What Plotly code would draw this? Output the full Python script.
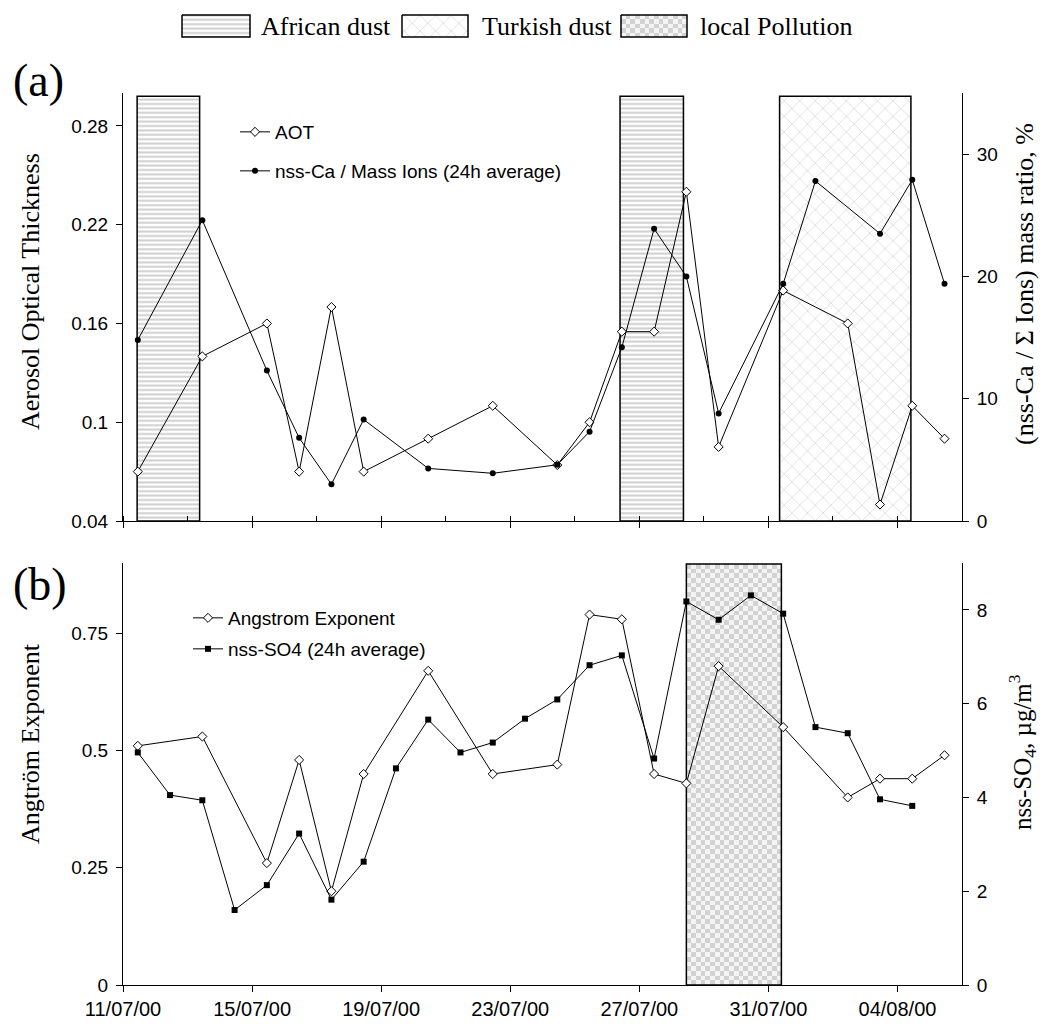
import numpy as np
import pandas as pd
import plotly.graph_objects as go

# ---------------- data ----------------
SAMPLE_TIME = "11:00"

aot_dates = ["2000-07-11", "2000-07-13", "2000-07-15", "2000-07-16", "2000-07-17",
             "2000-07-18", "2000-07-20", "2000-07-22", "2000-07-24", "2000-07-25",
             "2000-07-26", "2000-07-27", "2000-07-28", "2000-07-29", "2000-07-31",
             "2000-08-02", "2000-08-03", "2000-08-04", "2000-08-05"]
aot = [0.07, 0.14, 0.16, 0.07, 0.17, 0.07, 0.09, 0.11, 0.074, 0.10,
       0.155, 0.155, 0.24, 0.085, 0.18, 0.16, 0.05, 0.11, 0.09]
angstrom = [0.51, 0.53, 0.26, 0.48, 0.20, 0.45, 0.67, 0.45, 0.47, 0.79,
            0.78, 0.45, 0.43, 0.68, 0.55, 0.40, 0.44, 0.44, 0.49]

ca_dates = ["2000-07-11", "2000-07-13", "2000-07-15", "2000-07-16", "2000-07-17",
            "2000-07-18", "2000-07-20", "2000-07-22", "2000-07-24", "2000-07-25",
            "2000-07-26", "2000-07-27", "2000-07-28", "2000-07-29", "2000-07-31",
            "2000-08-01", "2000-08-03", "2000-08-04", "2000-08-05"]
ca_ratio = [14.8, 24.6, 12.3, 6.8, 3.0, 8.3, 4.3, 3.9, 4.6, 7.3,
            14.2, 23.9, 20.0, 8.8, 19.4, 27.8, 23.5, 27.9, 19.4]

so4_dates = ["2000-07-11", "2000-07-12", "2000-07-13", "2000-07-14", "2000-07-15",
             "2000-07-16", "2000-07-17", "2000-07-18", "2000-07-19", "2000-07-20",
             "2000-07-21", "2000-07-22", "2000-07-23", "2000-07-24", "2000-07-25",
             "2000-07-26", "2000-07-27", "2000-07-28", "2000-07-29", "2000-07-30",
             "2000-07-31", "2000-08-01", "2000-08-02", "2000-08-03", "2000-08-04"]
so4 = [4.96, 4.05, 3.94, 1.60, 2.13, 3.23, 1.82, 2.63, 4.62, 5.66,
       4.96, 5.17, 5.68, 6.09, 6.82, 7.03, 4.83, 8.18, 7.79, 8.31,
       7.92, 5.50, 5.37, 3.96, 3.82]

# event periods (start, end)
african_dust = [("2000-07-11 10:30", "2000-07-13 09:00"),
                ("2000-07-26 09:40", "2000-07-28 08:50")]
turkish_dust = [("2000-07-31 08:20", "2000-08-04 10:00")]
local_pollution = [("2000-07-28 11:00", "2000-07-31 09:40")]

x_range = ["2000-07-11", "2000-08-06"]
aot_range = [0.04, 0.30]
aot_ticks = [0.04, 0.1, 0.16, 0.22, 0.28]
ca_range = [0, 35]
ca_ticks = [0, 10, 20, 30]
ang_range = [0, 0.9]
ang_ticks = [0, 0.25, 0.5, 0.75]
so4_range = [0, 9]
so4_ticks = [0, 2, 4, 6, 8]

def stamp(dates):
    return [d + " " + SAMPLE_TIME for d in dates]

# ---------------- geometry ----------------
W, H = 1043, 1027
PL, PR = 123, 962
A_TOP, A_BOT = 93, 521
B_TOP, B_BOT = 563, 985
xdom = [PL / W, PR / W]
ya_dom = [1 - A_BOT / H, 1 - A_TOP / H]
yb_dom = [1 - B_BOT / H, 1 - B_TOP / H]

def px(x):
    return x / W

def py(y):
    return 1 - y / H

SANS = "Liberation Sans, Arial, sans-serif"
SERIF = "Liberation Serif, Times New Roman, serif"
DAY = 86400000

STRIPES = dict(shape="-", size=4.4, solidity=0.45, fgcolor="#cfcfcf", bgcolor="white", fillmode="replace")
LATTICE = dict(shape="x", size=11, solidity=0.08, fgcolor="#bdbdbd", bgcolor="white", fillmode="replace")
CHECK_SCALE = [[0, "#f4f4f4"], [1, "#d2d2d2"]]

fig = go.Figure()

# ---------------- event boxes ----------------
box_top_a = 0.298
for s, e in african_dust:
    fig.add_trace(go.Scatter(x=[s, s, e, e, s], y=[aot_range[0], box_top_a, box_top_a, aot_range[0], aot_range[0]],
                             xaxis="x", yaxis="y", mode="lines", fill="toself", fillcolor="white",
                             fillpattern=STRIPES, line=dict(color="black", width=1.5),
                             showlegend=False, hoverinfo="skip"))
for s, e in turkish_dust:
    fig.add_trace(go.Scatter(x=[s, s, e, e, s], y=[aot_range[0], box_top_a, box_top_a, aot_range[0], aot_range[0]],
                             xaxis="x", yaxis="y", mode="lines", fill="toself", fillcolor="white",
                             fillpattern=LATTICE, line=dict(color="black", width=1.5),
                             showlegend=False, hoverinfo="skip"))

box_top_b = 0.898
for s, e in local_pollution:
    t0, t1 = pd.Timestamp(s), pd.Timestamp(e)
    ncol = 20
    nrow = 90
    dx_ms = (t1 - t0).total_seconds() * 1000 / ncol
    dy = box_top_b / nrow
    zz = (np.add.outer(np.arange(nrow), np.arange(ncol)) % 2).astype(float)
    fig.add_trace(go.Heatmap(z=zz, x0=(t0 + pd.Timedelta(milliseconds=dx_ms / 2)).strftime("%Y-%m-%d %H:%M:%S"),
                             dx=dx_ms, y0=dy / 2, dy=dy, xaxis="x2", yaxis="y3",
                             colorscale=CHECK_SCALE, zmin=0, zmax=1, showscale=False, hoverinfo="skip"))
    fig.add_trace(go.Scatter(x=[s, s, e, e, s], y=[0, box_top_b, box_top_b, 0, 0],
                             xaxis="x2", yaxis="y3", mode="lines",
                             line=dict(color="black", width=1.5), showlegend=False, hoverinfo="skip"))

# ---------------- data traces ----------------
fig.add_trace(go.Scatter(x=stamp(aot_dates), y=aot, name="AOT", xaxis="x", yaxis="y",
                         mode="lines+markers", line=dict(color="black", width=1),
                         marker=dict(symbol="diamond", size=7, color="white", line=dict(color="black", width=1)),
                         legend="legend"))
fig.add_trace(go.Scatter(x=stamp(ca_dates), y=ca_ratio, name="nss-Ca / Mass Ions (24h average)",
                         xaxis="x", yaxis="y2", mode="lines+markers", line=dict(color="black", width=1),
                         marker=dict(symbol="circle", size=6, color="black"), legend="legend2"))
fig.add_trace(go.Scatter(x=stamp(aot_dates), y=angstrom, name="Angstrom Exponent", xaxis="x2", yaxis="y3",
                         mode="lines+markers", line=dict(color="black", width=1),
                         marker=dict(symbol="diamond", size=7, color="white", line=dict(color="black", width=1)),
                         legend="legend3"))
fig.add_trace(go.Scatter(x=stamp(so4_dates), y=so4, name="nss-SO4 (24h average)", xaxis="x2", yaxis="y4",
                         mode="lines+markers", line=dict(color="black", width=1),
                         marker=dict(symbol="square", size=6, color="black"), legend="legend4"))

# ---------------- top legend (pattern swatches) ----------------
SW_Y0, SW_Y1 = 15, 37
swatches = [(182, 250, "African dust", 259), (402, 468, "Turkish dust", 480), (621, 687, "local Pollution", 698)]
for i, (x0, x1, label, tx) in enumerate(swatches):
    if i == 2:
        ncol, nrow = 14, 5
        zz = (np.add.outer(np.arange(nrow), np.arange(ncol)) % 2).astype(float)
        dxp = (x1 - x0) / ncol
        dyp = (SW_Y1 - SW_Y0) / nrow
        fig.add_trace(go.Heatmap(z=zz, x0=x0 + dxp / 2, dx=dxp, y0=SW_Y0 + dyp / 2, dy=dyp,
                                 xaxis="x3", yaxis="y5", colorscale=CHECK_SCALE, zmin=0, zmax=1,
                                 showscale=False, hoverinfo="skip"))
        fig.add_trace(go.Scatter(x=[x0, x0, x1, x1, x0], y=[SW_Y0, SW_Y1, SW_Y1, SW_Y0, SW_Y0],
                                 xaxis="x3", yaxis="y5", mode="lines", line=dict(color="black", width=1.5),
                                 showlegend=False, hoverinfo="skip"))
    else:
        fig.add_trace(go.Scatter(x=[x0, x0, x1, x1, x0], y=[SW_Y0, SW_Y1, SW_Y1, SW_Y0, SW_Y0],
                                 xaxis="x3", yaxis="y5", mode="lines", fill="toself", fillcolor="white",
                                 fillpattern=STRIPES if i == 0 else LATTICE,
                                 line=dict(color="black", width=1.5), showlegend=False, hoverinfo="skip"))
    fig.add_annotation(x=px(tx), y=py(26), xref="paper", yref="paper", text=label, showarrow=False,
                       xanchor="left", yanchor="middle", font=dict(family=SERIF, size=26, color="black"))

# ---------------- axes ----------------
axis_common = dict(showline=True, linecolor="black", linewidth=1, showgrid=False, zeroline=False,
                   tickcolor="black", ticklen=6, tickwidth=1, automargin=False)
tick_font = dict(family=SANS, size=19, color="black")

fig.update_layout(
    template="none",
    width=W, height=H, margin=dict(l=0, r=0, t=0, b=0, autoexpand=False),
    paper_bgcolor="white", plot_bgcolor="rgba(0,0,0,0)",
    xaxis=dict(domain=xdom, anchor="y", type="date", range=x_range, ticks="outside",
               tick0=x_range[0], dtick=4 * DAY, showticklabels=False,
               minor=dict(ticks="inside", dtick=2 * DAY, tick0=x_range[0], ticklen=5, tickcolor="black"),
               **axis_common),
    yaxis=dict(domain=ya_dom, anchor="x", range=aot_range, tickvals=aot_ticks,
               ticktext=[f"{v:g}" for v in aot_ticks], ticks="outside", tickfont=tick_font,
               ticklabelstandoff=4, **axis_common),
    yaxis2=dict(overlaying="y", side="right", anchor="x", range=ca_range, tickvals=ca_ticks,
                ticks="outside", tickfont=tick_font, ticklabelstandoff=4, **axis_common),
    xaxis2=dict(domain=xdom, anchor="y3", type="date", range=x_range, ticks="outside",
                tick0=x_range[0], dtick=4 * DAY, tickformat="%d/%m/%y",
                tickfont=dict(family=SANS, size=20, color="black"), **axis_common),
    yaxis3=dict(domain=yb_dom, anchor="x2", range=ang_range, tickvals=ang_ticks,
                ticktext=[f"{v:g}" for v in ang_ticks], ticks="outside", tickfont=tick_font,
                ticklabelstandoff=4, **axis_common),
    yaxis4=dict(overlaying="y3", side="right", anchor="x2", range=so4_range, tickvals=so4_ticks,
                ticks="outside", tickfont=tick_font, ticklabelstandoff=4, **axis_common),
    xaxis3=dict(domain=[0, 1], anchor="y5", range=[0, W], visible=False, fixedrange=True, automargin=False),
    yaxis5=dict(domain=[0, 1], anchor="x3", range=[H, 0], visible=False, fixedrange=True, automargin=False),
    showlegend=True,
)

leg_common = dict(bgcolor="rgba(0,0,0,0)", borderwidth=0, font=dict(family=SANS, size=19, color="black"),
                  xanchor="left", yanchor="middle", itemwidth=30)
fig.update_layout(
    legend=dict(x=px(235), y=py(132), **leg_common),
    legend2=dict(x=px(235), y=py(171), **leg_common),
    legend3=dict(x=px(188), y=py(618), **leg_common),
    legend4=dict(x=px(188), y=py(649), **leg_common),
)

# ---------------- texts ----------------
ann = [
    ("(a)", 38, 80, 0, 46),
    ("(b)", 40, 584, 0, 46),
    ("Aerosol Optical Thickness", 30, 292, -90, 26),
    ("Angtröm Exponent", 30, 744, -90, 26),
    ("(nss-Ca / Σ Ions) mass ratio, %", 1025, 284, -90, 26),
    ("nss-SO<sub>4</sub>, µg/m<sup>3</sup>", 1022, 752, -90, 25),
]
for text, x, y, ang, size in ann:
    fig.add_annotation(x=px(x), y=py(y), xref="paper", yref="paper", text=text, showarrow=False,
                       textangle=ang, xanchor="center", yanchor="middle",
                       font=dict(family=SERIF, size=size, color="black"))

fig.write_html("out.html", config={"displayModeBar": False},
               post_script="document.body.style.margin='0px';document.body.style.overflow='hidden';")
